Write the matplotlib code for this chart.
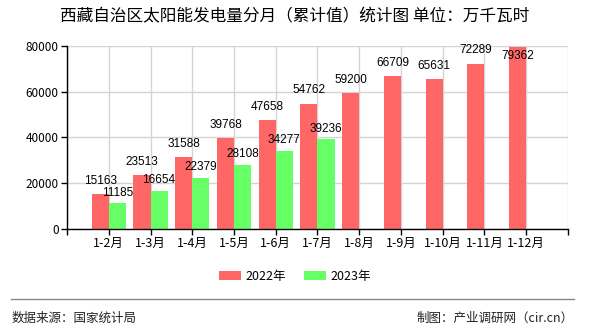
import numpy as np
import matplotlib
matplotlib.use('Agg')
import matplotlib.pyplot as plt

plt.rcParams['font.family'] = ['Noto Sans CJK SC', 'DejaVu Sans']

# Monthly cumulative solar generation, Tibet (10k kWh)
months = ['1-2月', '1-3月', '1-4月', '1-5月', '1-6月', '1-7月',
          '1-8月', '1-9月', '1-10月', '1-11月', '1-12月']
values_2022 = [15163, 23513, 31588, 39768, 47658, 54762, 59200, 66709, 65631, 72289, 79362]
values_2023 = [11185, 16654, 22379, 28108, 34277, 39236]

red = '#ff6666'
green = '#66ff66'
bar_w = 0.41

fig = plt.figure(figsize=(5.9, 3.3), dpi=100)
ax = fig.add_axes([0.1136, 0.306, 0.849, 0.555])

x22 = np.arange(1, len(values_2022) + 1)
x23 = np.arange(1, len(values_2023) + 1)
ax.bar(x22 - bar_w / 2, values_2022, width=bar_w, color=red, label='2022年', zorder=2)
ax.bar(x23 + bar_w / 2, values_2023, width=bar_w, color=green, label='2023年', zorder=2)

# value labels above each bar; the tallest one goes inside so it stays in the plot
def put_labels(xs, vals, dy_up):
    for x, v in zip(xs, vals):
        dy = -6 if v > 76000 else dy_up
        ax.annotate(str(v), (x, v), xytext=(0, dy), textcoords='offset points',
                    ha='center', va='center', fontsize=8.5, family='Liberation Sans',
                    zorder=4)

put_labels(x22 - bar_w / 2, values_2022, 9.5)
put_labels(x23 + bar_w / 2, values_2023, 7.5)

ax.set_xlim(0, 12)
ax.set_ylim(0, 80000)
ax.set_yticks([0, 20000, 40000, 60000, 80000])
ax.set_xticks(np.arange(0, 13))
ax.set_xticklabels([''] + months + [''])
ax.tick_params(axis='both', labelsize=8.5, length=4, width=1, color='black', pad=2)
ax.tick_params(axis='x', labelsize=9)

ax.grid(True, color='#d4d4d4', linewidth=1, zorder=0)
ax.set_axisbelow(True)
for side in ['top', 'right']:
    ax.spines[side].set_visible(False)
for side in ['left', 'bottom']:
    ax.spines[side].set_color('black')
    ax.spines[side].set_linewidth(1)

fig.text(0.5, 0.948, '西藏自治区太阳能发电量分月（累计值）统计图 单位：万千瓦时',
         ha='center', va='center', fontsize=12)

fig.legend(loc='center', bbox_to_anchor=(0.5, 0.162), ncol=2, frameon=False,
           fontsize=9, handlelength=1.75, handleheight=0.75, columnspacing=1.4,
           handletextpad=0.4)

fig.add_artist(plt.Line2D([0.019, 0.973], [0.094, 0.094], color='#888888', linewidth=1))
fig.text(0.019, 0.036, '数据来源：国家统计局', ha='left', va='center', fontsize=9, color='#222222')
fig.text(0.973, 0.036, '制图：产业调研网（cir.cn）', ha='right', va='center', fontsize=9, color='#222222')

fig.savefig('out.png', dpi=100, facecolor='white')
